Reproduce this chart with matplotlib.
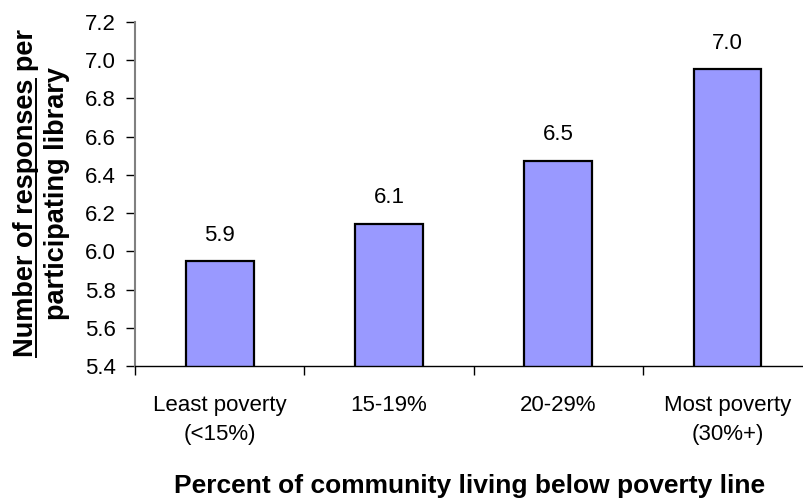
import matplotlib
matplotlib.use('Agg')
import matplotlib.pyplot as plt
from matplotlib.lines import Line2D
import numpy as np

plt.rcParams['font.family'] = ['Liberation Sans', 'DejaVu Sans']

# Data
categories = ['Least poverty\n(<15%)', '15-19%', '20-29%', 'Most poverty\n(30%+)']
responses = [5.947, 6.145, 6.473, 6.952]
bar_labels = ['5.9', '6.1', '6.5', '7.0']
y_ticks = [5.4, 5.6, 5.8, 6.0, 6.2, 6.4, 6.6, 6.8, 7.0, 7.2]

W, H, DPI = 804, 500, 100
fig = plt.figure(figsize=(W / DPI, H / DPI), dpi=DPI)
ax = fig.add_axes([135 / W, 1 - 366 / H, (W - 135) / W, (366 - 22) / H])

x = np.arange(len(categories))
ax.bar(x, responses, width=0.4, color='#9999FF', edgecolor='black', linewidth=1.6, zorder=2)

for xi, v, lab in zip(x, responses, bar_labels):
    ax.annotate(lab, (xi, v), xytext=(0, 15), textcoords='offset points',
                ha='center', va='baseline', fontsize=16)

ax.set_ylim(5.4, 7.2)
ax.set_yticks(y_ticks)
ax.set_yticklabels([f'{t:.1f}' for t in y_ticks])
ax.set_xlim(-0.5, -0.5 + (W - 135) / 169.3)

ax.set_xticks(x)
ax.set_xticklabels(categories, linespacing=1.5)
ax.set_xticks(np.arange(-0.5, 3.0, 1.0), minor=True)
ax.tick_params(axis='x', which='major', length=0, pad=21, labelsize=16)
ax.tick_params(axis='x', which='minor', length=6.5, width=1, direction='out', color='black')
ax.tick_params(axis='y', length=6.5, width=1, direction='out', pad=7, labelsize=16, color='black')

for s in ['top', 'right']:
    ax.spines[s].set_visible(False)
ax.spines['left'].set_color('#808080')
ax.spines['left'].set_linewidth(1.5)
ax.spines['bottom'].set_color('black')
ax.spines['bottom'].set_linewidth(1)

ax.set_xlabel('Percent of community living below poverty line', fontsize=19,
              fontweight='bold', labelpad=21)

# two-line y label, first part underlined
yc = 1 - 193 / H
line1 = 'Number of responses per'
part = 'Number of responses'
ylab_kw = dict(rotation=90, rotation_mode='anchor', ha='center', va='baseline',
               fontsize=19.5, fontweight='bold')
fig.text(33 / W, yc, line1, **ylab_kw)
fig.text(64 / W, yc, 'participating library', **ylab_kw)

renderer = fig.canvas.get_renderer()
tmp_full = fig.text(0, 0, line1, fontsize=19.5, fontweight='bold')
tmp_part = fig.text(0, 0, part, fontsize=19.5, fontweight='bold')
w_full = tmp_full.get_window_extent(renderer).width
w_part = tmp_part.get_window_extent(renderer).width
tmp_full.remove()
tmp_part.remove()

y0 = yc * H - w_full / 2
y1 = y0 + w_part
ux = 36
fig.add_artist(Line2D([ux / W, ux / W], [y0 / H, y1 / H], color='black', linewidth=1.4))

fig.savefig('out.png', dpi=DPI)
